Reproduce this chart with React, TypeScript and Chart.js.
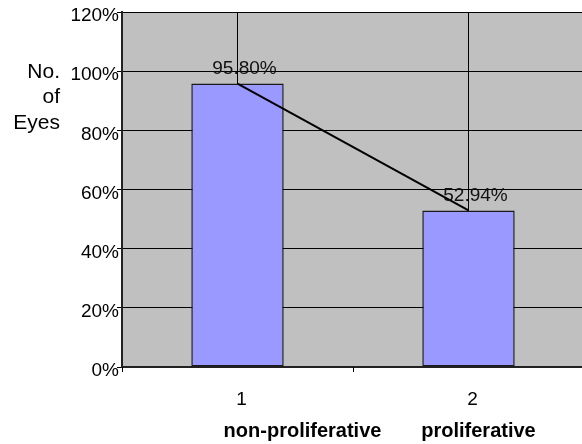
import React, { useEffect, useRef } from 'react';
import { Chart, registerables } from 'chart.js';

Chart.register(...registerables);

const categories = ['1', '2'];
const categoryNames = ['non-proliferative', 'proliferative'];
const percentValues = [95.8, 52.94];
const valueLabels = ['95.80%', '52.94%'];
const yTitleLines = ['No.', 'of', 'Eyes'];
const yMin = 0;
const yMax = 120;
const yStep = 20;

const FONT = "'Liberation Sans', Arial, sans-serif";

const backgroundPlugin = {
  id: 'plotBackground',
  beforeDraw(chart: any) {
    const { ctx, chartArea } = chart;
    ctx.save();
    ctx.fillStyle = '#C0C0C0';
    ctx.fillRect(chartArea.left, chartArea.top, chartArea.right - chartArea.left, chartArea.bottom - chartArea.top);
    ctx.restore();
  },
};

const overlayPlugin = {
  id: 'overlay',
  afterDatasetsDraw(chart: any) {
    const ctx = chart.ctx as CanvasRenderingContext2D;
    const xs = chart.scales.x;
    const ys = chart.scales.y;
    ctx.save();
    // tick marks at category boundaries
    ctx.strokeStyle = '#000';
    ctx.lineWidth = 1;
    for (let i = 0; i <= categories.length; i++) {
      const px = Math.round(xs.getPixelForValue(i - 0.5)) + 0.5;
      ctx.beginPath();
      ctx.moveTo(px, ys.bottom);
      ctx.lineTo(px, ys.bottom + 5);
      ctx.stroke();
    }
    // value labels
    const meta = chart.getDatasetMeta(1);
    ctx.font = `19px ${FONT}`;
    ctx.fillStyle = '#111';
    ctx.textAlign = 'center';
    ctx.textBaseline = 'middle';
    meta.data.forEach((bar: any, i: number) => {
      ctx.fillText(valueLabels[i], bar.x + 7, bar.y - 15);
    });
    // category names (bold)
    ctx.font = `bold 20px ${FONT}`;
    ctx.fillStyle = '#000';
    const nameOffsets = [65, 10];
    categoryNames.forEach((name, i) => {
      ctx.fillText(name, xs.getPixelForValue(i) + nameOffsets[i], 431);
    });
    // y axis title
    ctx.font = `21px ${FONT}`;
    ctx.textAlign = 'right';
    yTitleLines.forEach((line, i) => {
      ctx.fillText(line, 60, 72 + i * 25.5);
    });
    ctx.restore();
  },
};

export default function App() {
  const canvasRef = useRef<HTMLCanvasElement | null>(null);

  useEffect(() => {
    if (!canvasRef.current) return;
    const chart = new Chart(canvasRef.current, {
      type: 'bar',
      data: {
        labels: categories,
        datasets: [
          {
            type: 'line',
            data: percentValues,
            borderColor: '#000',
            borderWidth: 2,
            pointRadius: 0,
            tension: 0,
            fill: false,
            order: 0,
          } as any,
          {
            type: 'bar',
            data: percentValues,
            backgroundColor: '#9999FF',
            borderColor: '#1a1a1a',
            borderWidth: 1.5,
            borderSkipped: false,
            barPercentage: 0.4,
            categoryPercentage: 1,
            order: 1,
          },
        ],
      },
      options: {
        animation: false,
        responsive: false,
        devicePixelRatio: 1,
        layout: { padding: { top: 12, left: 0, right: 0, bottom: 0 } },
        plugins: {
          legend: { display: false },
          tooltip: { enabled: false },
        },
        scales: {
          x: {
            offset: true,
            grid: { offset: false, color: '#000', lineWidth: 1, drawTicks: false },
            border: { display: true, color: '#222', width: 2 },
            ticks: {
              color: '#000',
              font: { family: FONT, size: 19 },
              padding: 21,
              labelOffset: 4,
            },
            afterFit: (scale: any) => {
              scale.height = 77;
            },
          },
          y: {
            min: yMin,
            max: yMax,
            grid: { color: '#000', lineWidth: 1, tickLength: 5 },
            border: { display: true, color: '#222', width: 2 },
            ticks: {
              stepSize: yStep,
              color: '#000',
              font: { family: FONT, size: 19 },
              padding: -2,
              labelOffset: 4,
              callback: (v: any) => `${v}%`,
            },
            afterFit: (scale: any) => {
              scale.width = 122;
            },
          },
        },
      },
      plugins: [backgroundPlugin, overlayPlugin],
    });
    return () => chart.destroy();
  }, []);

  return (
    <div
      style={{
        position: 'absolute',
        left: 0,
        top: 0,
        width: 582,
        height: 444,
        overflow: 'hidden',
        background: '#fff',
      }}
    >
      <canvas ref={canvasRef} width={584} height={444} style={{ display: 'block' }} />
    </div>
  );
}
